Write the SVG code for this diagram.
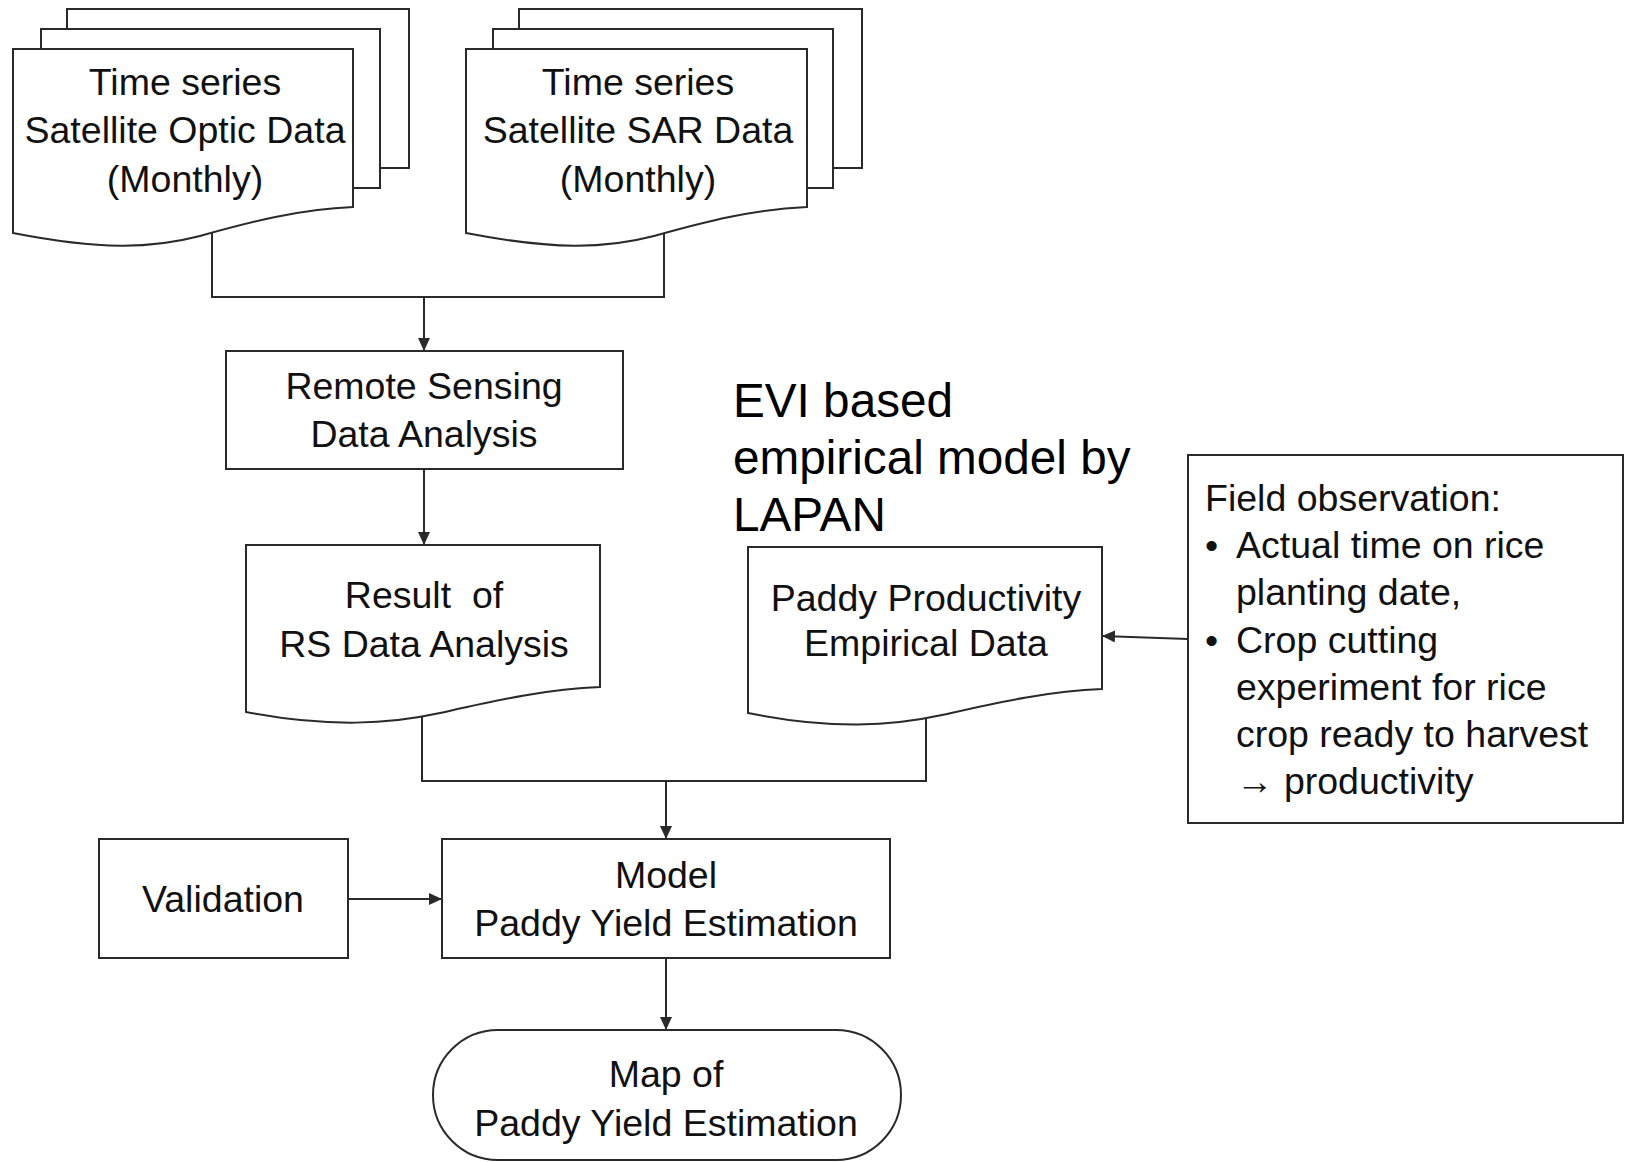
<svg xmlns="http://www.w3.org/2000/svg" width="1625" height="1162" viewBox="0 0 1625 1162">
<defs>
<style>
.shape{fill:#fff;stroke:#2a2a2a;stroke-width:2}
.line{fill:none;stroke:#2a2a2a;stroke-width:2}
.t{font-family:"Liberation Sans",Arial,sans-serif;font-size:37.5px;fill:#111;text-anchor:middle}
.tl{font-family:"Liberation Sans",Arial,sans-serif;font-size:37.5px;fill:#111}
.big{font-family:"Liberation Sans",Arial,sans-serif;font-size:47.7px;fill:#000}
</style>
<marker id="arr" markerUnits="userSpaceOnUse" markerWidth="13" markerHeight="12" viewBox="0 0 13 12" refX="13" refY="6" orient="auto">
<path d="M0,0 L13,6 L0,12 Z" fill="#2a2a2a"/>
</marker>
</defs>
<rect width="1625" height="1162" fill="#fff"/>
<g id="connectors">
<path class="line" d="M212,225 V297 H664 V225"/>
<path class="line" d="M424,297 V351" marker-end="url(#arr)"/>
<path class="line" d="M424,469 V545" marker-end="url(#arr)"/>
<path class="line" d="M422,710 V781 H926 V710"/>
<path class="line" d="M666,781 V839" marker-end="url(#arr)"/>
<path class="line" d="M1188,639 L1102,636" marker-end="url(#arr)"/>
<path class="line" d="M348,899 H442" marker-end="url(#arr)"/>
<path class="line" d="M666,958 V1030" marker-end="url(#arr)"/>
</g>
<g id="optic">
<rect class="shape" x="67" y="9" width="342" height="159"/>
<rect class="shape" x="41" y="29" width="339" height="159"/>
<path class="shape" d="M13,49 H353 V207 C300,209 250,222 200,236 C150,249 100,250 13,233 Z"/>
<text class="t" x="185" y="95">Time series</text>
<text class="t" x="185" y="143">Satellite Optic Data</text>
<text class="t" x="185" y="192">(Monthly)</text>
</g>
<g id="sar">
<rect class="shape" x="519" y="9" width="343" height="159"/>
<rect class="shape" x="493" y="29" width="340" height="159"/>
<path class="shape" d="M466,49 H807 V207 C754,209 704,222 654,236 C604,249 554,250 466,233 Z"/>
<text class="t" x="638" y="95">Time series</text>
<text class="t" x="638" y="143">Satellite SAR Data</text>
<text class="t" x="638" y="192">(Monthly)</text>
</g>
<g id="rs-analysis">
<rect class="shape" x="226" y="351" width="397" height="118"/>
<text class="t" x="424" y="399">Remote Sensing</text>
<text class="t" x="424" y="447">Data Analysis</text>
</g>
<g id="result">
<path class="shape" d="M246,545 H600 V687 C545,689 494,701 440,713 C390,724 330,728 246,712 Z"/>
<text class="t" x="424" y="608" xml:space="preserve">Result  of</text>
<text class="t" x="424" y="657">RS Data Analysis</text>
</g>
<g id="evi-label">
<text class="big" x="733" y="417">EVI based</text>
<text class="big" x="733" y="474">empirical model by</text>
<text class="big" x="733" y="531">LAPAN</text>
</g>
<g id="paddy-data">
<path class="shape" d="M748,547 H1102 V689 C1047,691 996,703 942,715 C892,726 832,730 748,713 Z"/>
<text class="t" x="926" y="611">Paddy Productivity</text>
<text class="t" x="926" y="656">Empirical Data</text>
</g>
<g id="field">
<rect class="shape" x="1188" y="455" width="435" height="368"/>
<text class="tl" x="1205" y="511">Field observation:</text>
<text class="tl" x="1205" y="558">•</text>
<text class="tl" x="1236" y="558">Actual time on rice</text>
<text class="tl" x="1236" y="605">planting date,</text>
<text class="tl" x="1205" y="653">•</text>
<text class="tl" x="1236" y="653">Crop cutting</text>
<text class="tl" x="1236" y="700">experiment for rice</text>
<text class="tl" x="1236" y="747">crop ready to harvest</text>
<text class="tl" x="1236" y="794">→ productivity</text>
</g>
<g id="validation">
<rect class="shape" x="99" y="839" width="249" height="119"/>
<text class="t" x="223" y="912">Validation</text>
</g>
<g id="model">
<rect class="shape" x="442" y="839" width="448" height="119"/>
<text class="t" x="666" y="888">Model</text>
<text class="t" x="666" y="936">Paddy Yield Estimation</text>
</g>
<g id="map">
<rect class="shape" x="433" y="1030" width="468" height="130" rx="65" ry="65"/>
<text class="t" x="666" y="1087">Map of</text>
<text class="t" x="666" y="1136">Paddy Yield Estimation</text>
</g>
</svg>
